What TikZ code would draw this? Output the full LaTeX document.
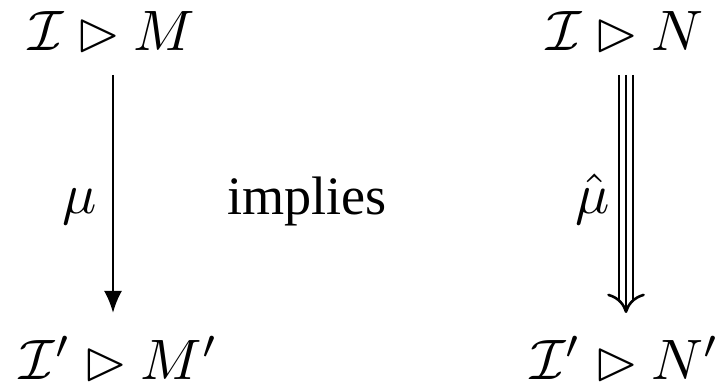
\documentclass[tikz,border=0pt]{standalone}
\usepackage{amssymb}
\usepackage{fontspec}
\setmainfont{Liberation Serif}
\usetikzlibrary{arrows.meta,calc}
\tikzset{
  judg/.style={inner sep=0pt, anchor=base},
  arrlabel/.style={inner sep=2.6pt},
  steparrow/.style={-{Latex[length=3.9pt,width=3.2pt]}, line width=0.45pt},
  multiouter/.style={double, double distance=2pt, line width=0.35pt, shorten >=2.2pt},
  multimid/.style={line width=0.35pt, -{To[length=3.4pt,width=6.6pt,line width=0.45pt]}},
}

\begin{document}
\begin{tikzpicture}[x=0.1754pt, y=-0.1754pt]
\useasboundingbox (0,0) rectangle (715,382);
\node[judg] (tl) at (112,51) {$\mathcal{I} \rhd M$};
\node[judg] (bl) at (119,379) {$\mathcal{I}' \rhd M'$};
\node[judg] (tr) at (625,51) {$\mathcal{I} \rhd N$};
\node[judg] (br) at (625,379) {$\mathcal{I}' \rhd N'$};
\node[judg, font=\fontsize{9.5}{11}\selectfont] (imp) at (307,215) {implies};

\draw[steparrow] ($(tl.base)+(1,24)$) -- ($(bl.base)+(-6,-66)$)
  node[arrlabel, left, pos=0.555] (mu) {$\mu$};
\draw[multiouter] ($(tr.base)+(1,24)$) -- ($(br.base)+(1,-66)$);
\draw[multimid] ($(tr.base)+(1,24)$) -- ($(br.base)+(1,-66)$)
  node[arrlabel, left, pos=0.52] (muhat) {$\hat{\mu}$};
\end{tikzpicture}
\end{document}
